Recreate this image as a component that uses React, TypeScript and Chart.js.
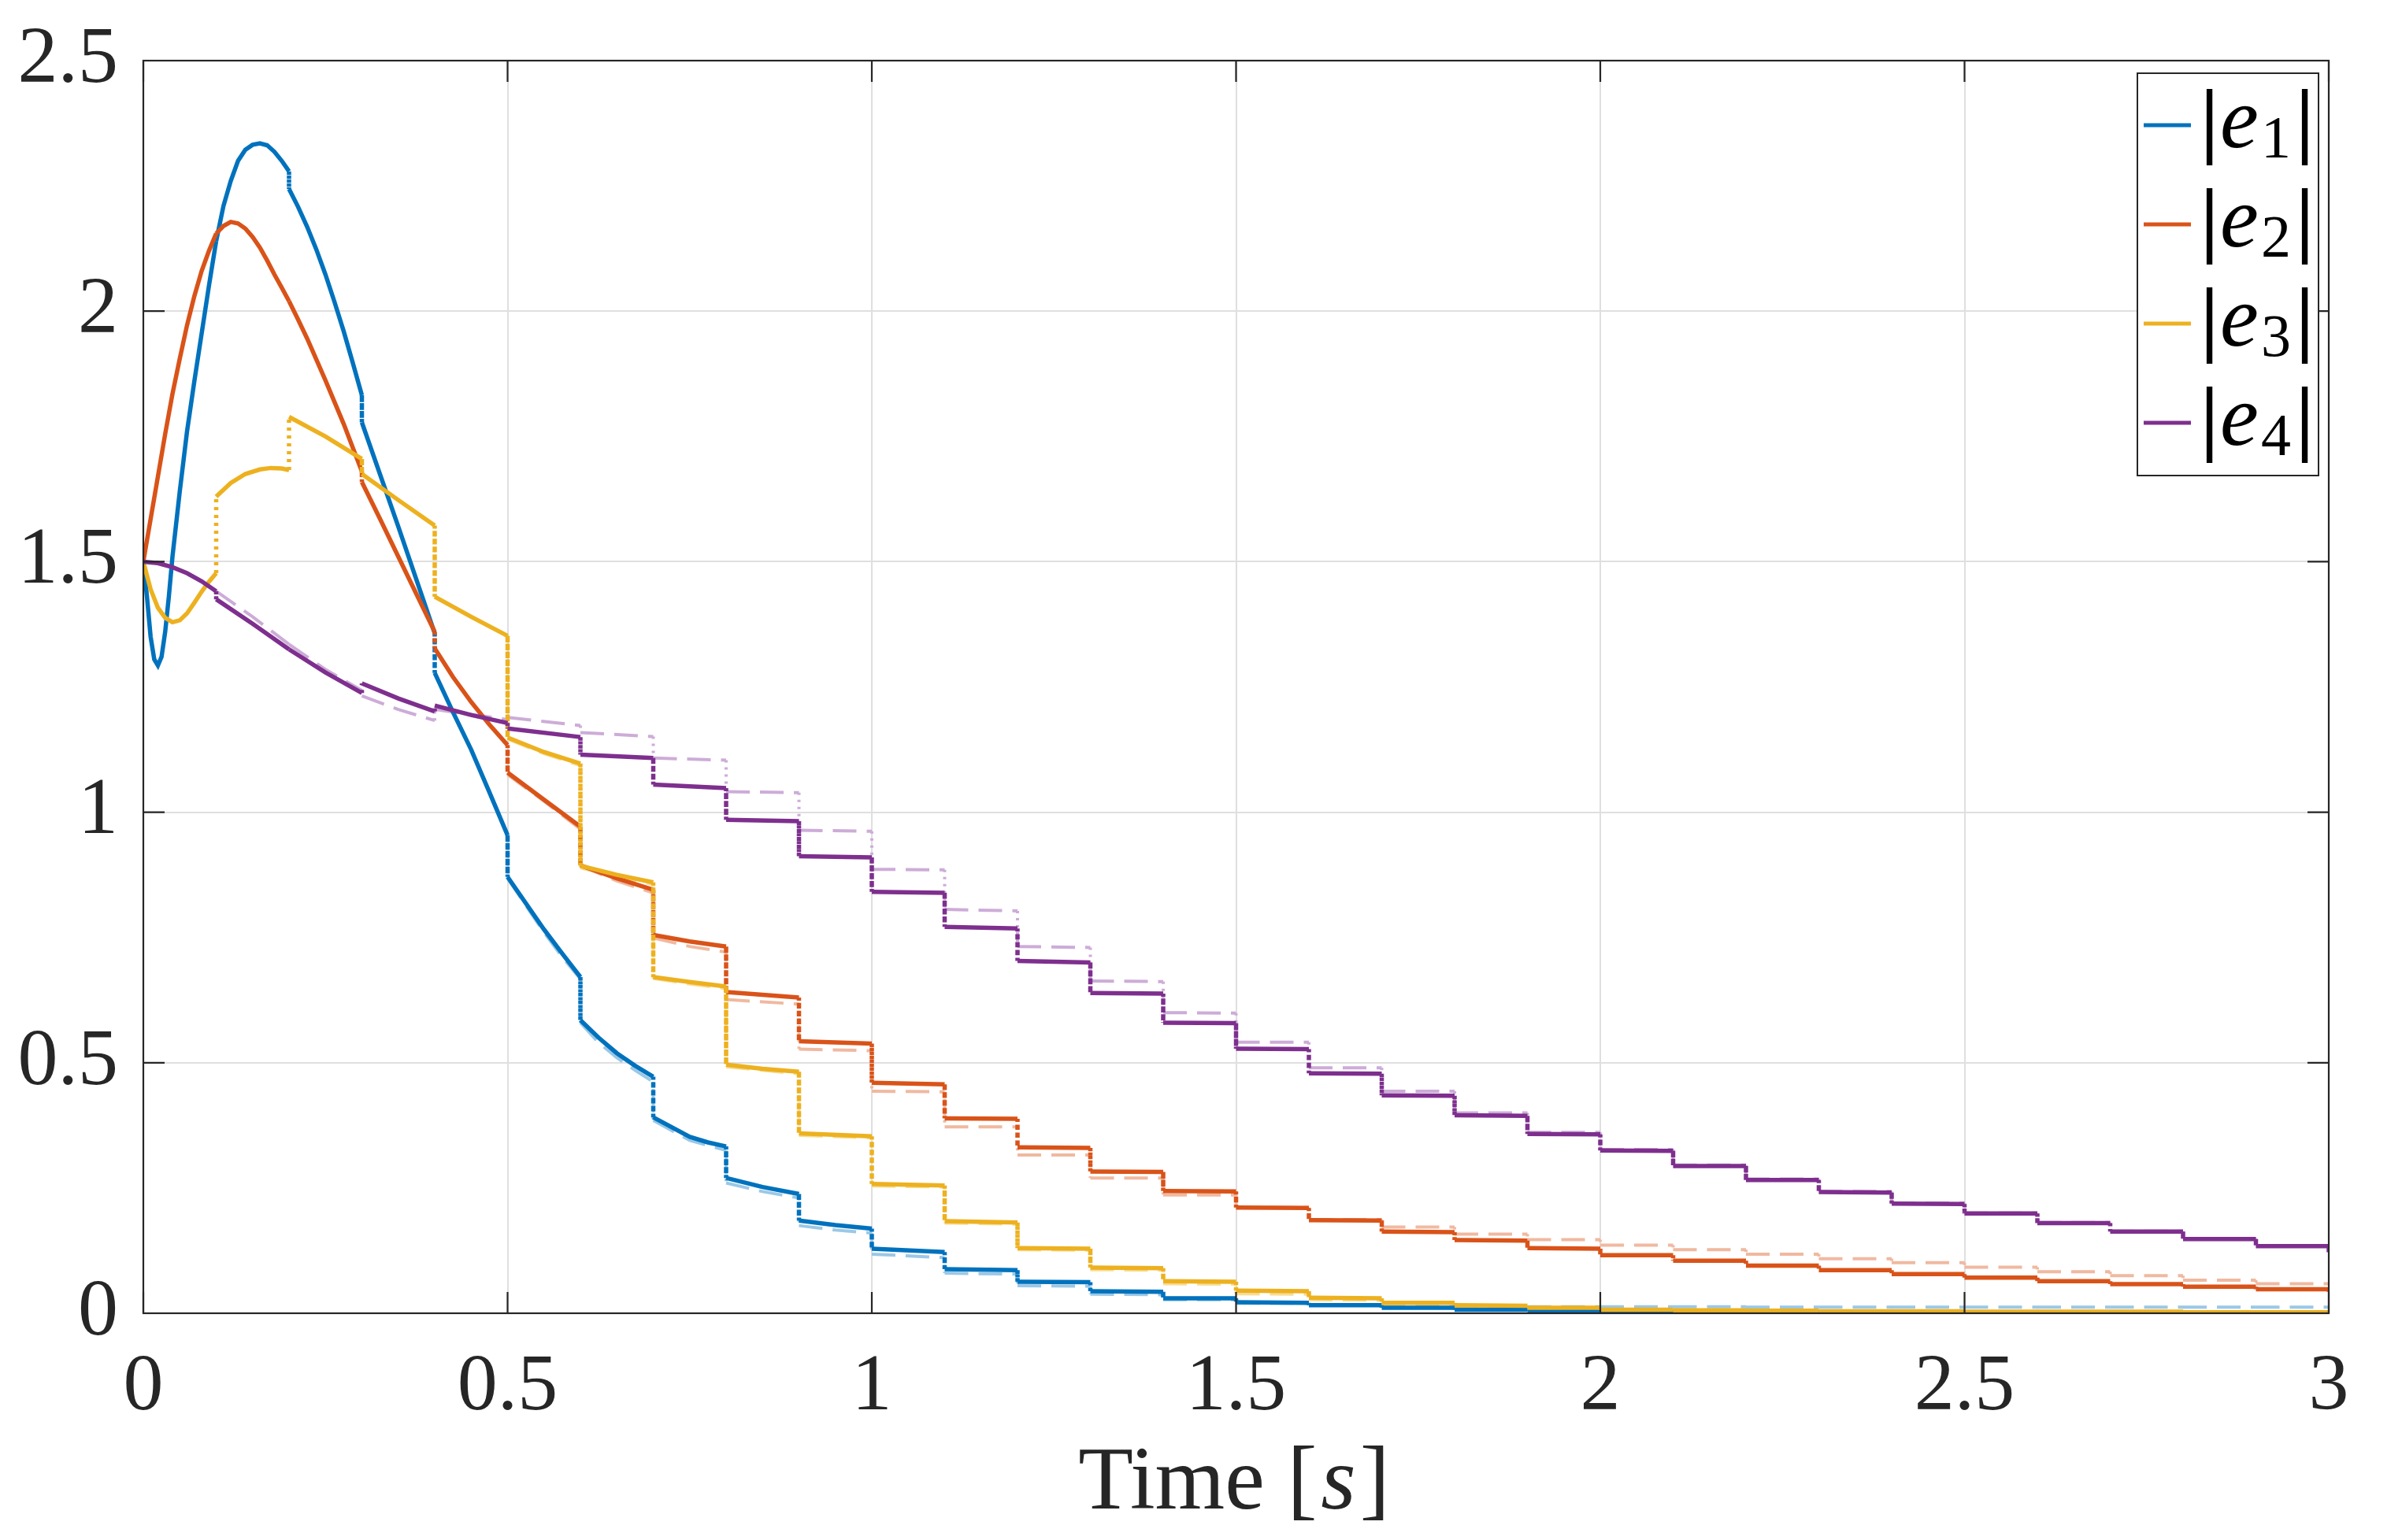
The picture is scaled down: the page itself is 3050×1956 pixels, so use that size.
import { useEffect, useRef } from 'react'

import { Chart, type ChartConfiguration, registerables } from 'chart.js'

Chart.register(...registerables)

// 制御周期ごとの時刻 [s]
const stepTimes = [
  0, 0.1, 0.2, 0.3, 0.4, 0.5, 0.6, 0.7, 0.8, 0.9, 1, 1.1, 1.2, 1.3, 1.4, 1.5, 1.6, 1.7, 1.8, 1.9, 2, 2.1,
  2.2, 2.3, 2.4, 2.5, 2.6, 2.7, 2.8, 2.9, 3,
]

const xTickValues = [0, 0.5, 1, 1.5, 2, 2.5, 3]
const yTickValues = [0, 0.5, 1, 1.5, 2, 2.5]

// |e1| : 各区間の始点・終点と区間内の点
const e1Start = [
  1.5, 2.14, 2.244, 1.778, 1.278, 0.871, 0.585, 0.391, 0.27, 0.185, 0.129, 0.088, 0.063, 0.044, 0.03,
  0.022, 0.016, 0.011, 0.007, 0.005, 0.003, 0.0025, 0.002, 0.0015, 0.0012, 0.001, 0.0008, 0.0007, 0.0006,
  0.0005, 0.0004,
]
const e1End = [
  2.14, 2.279, 1.832, 1.357, 0.954, 0.671, 0.472, 0.333, 0.238, 0.169, 0.122, 0.086, 0.062, 0.043, 0.03,
  0.021, 0.016, 0.011, 0.007, 0.005, 0.003, 0.0025, 0.002, 0.0015, 0.0012, 0.001, 0.0008, 0.0007, 0.0006,
  0.0005,
]
const e1Inner = [
  [0.005, 1.43], [0.01, 1.35], [0.015, 1.305], [0.02, 1.293], [0.025, 1.31], [0.03, 1.36], [0.035, 1.43],
  [0.04, 1.51], [0.05, 1.64], [0.06, 1.76], [0.07, 1.86], [0.08, 1.955], [0.09, 2.05],
  [0.11, 2.21], [0.12, 2.26], [0.13, 2.3], [0.14, 2.322], [0.15, 2.332], [0.16, 2.335], [0.17, 2.331],
  [0.18, 2.318], [0.19, 2.3],
  [0.2125, 2.208], [0.225, 2.168], [0.2375, 2.123], [0.25, 2.073], [0.2625, 2.018], [0.275, 1.96],
  [0.2875, 1.897],
  [0.35, 1.57],
  [0.425, 1.2], [0.45, 1.125], [0.475, 1.04],
  [0.55, 0.766], [0.575, 0.718],
  [0.625, 0.55], [0.65, 0.519], [0.675, 0.494],
  [0.75, 0.352], [0.775, 0.341],
  [0.85, 0.252], [0.95, 0.176],
]

// |e2|
const e2Start = [
  1.5, 2.155, 2.02, 1.659, 1.327, 1.079, 0.894, 0.755, 0.641, 0.543, 0.46, 0.389, 0.331, 0.283, 0.244,
  0.211, 0.186, 0.163, 0.146, 0.13, 0.116, 0.105, 0.095, 0.086, 0.078, 0.071, 0.064, 0.058, 0.053, 0.048,
  0.043,
]
const e2End = [
  2.155, 2.02, 1.68, 1.36, 1.134, 0.971, 0.845, 0.732, 0.63, 0.538, 0.457, 0.388, 0.33, 0.282, 0.243,
  0.21, 0.185, 0.162, 0.145, 0.129, 0.116, 0.105, 0.095, 0.086, 0.078, 0.071, 0.064, 0.058, 0.053, 0.048,
]
const e2Inner = [
  [0.01, 1.585], [0.02, 1.67], [0.03, 1.755], [0.04, 1.835], [0.05, 1.905], [0.06, 1.972], [0.07, 2.03],
  [0.08, 2.08], [0.09, 2.12],
  [0.11, 2.17], [0.12, 2.178], [0.13, 2.175], [0.14, 2.165], [0.15, 2.148], [0.16, 2.127], [0.17, 2.101],
  [0.18, 2.073], [0.19, 2.047],
  [0.2125, 1.983], [0.225, 1.945], [0.25, 1.862], [0.275, 1.775],
  [0.325, 1.585], [0.35, 1.51], [0.375, 1.435],
  [0.425, 1.27], [0.45, 1.22], [0.475, 1.175],
  [0.55, 1.025], [0.65, 0.868], [0.75, 0.742],
]

// |e3|
const e3Start = [
  1.5, 1.63, 1.789, 1.675, 1.43, 1.149, 0.893, 0.671, 0.496, 0.359, 0.258, 0.184, 0.13, 0.091, 0.064,
  0.045, 0.031, 0.021, 0.016, 0.011, 0.007, 0.006, 0.005, 0.004, 0.004, 0.003, 0.003, 0.003, 0.002, 0.002,
  0.002,
]
const e3End = [
  1.477, 1.683, 1.705, 1.572, 1.352, 1.097, 0.86, 0.652, 0.482, 0.353, 0.255, 0.181, 0.129, 0.09, 0.063,
  0.044, 0.03, 0.021, 0.015, 0.011, 0.007, 0.006, 0.005, 0.004, 0.004, 0.003, 0.003, 0.003, 0.002, 0.002,
]
const e3Inner = [
  [0.01, 1.445], [0.02, 1.408], [0.03, 1.388], [0.04, 1.379], [0.05, 1.383], [0.06, 1.397], [0.07, 1.418],
  [0.08, 1.44], [0.09, 1.46],
  [0.12, 1.657], [0.14, 1.675], [0.16, 1.684], [0.175, 1.687], [0.19, 1.686],
  [0.25, 1.75], [0.35, 1.623], [0.45, 1.39], [0.55, 1.12], [0.65, 0.875], [0.75, 0.661], [0.85, 0.488],
]

// |e4|
const e4Start = [
  1.5, 1.425, 1.325, 1.257, 1.213, 1.167, 1.115, 1.055, 0.985, 0.912, 0.841, 0.771, 0.703, 0.639, 0.58,
  0.528, 0.479, 0.435, 0.395, 0.358, 0.325, 0.294, 0.266, 0.242, 0.219, 0.199, 0.18, 0.163, 0.148, 0.134,
  0.12,
]
const e4End = [
  1.441, 1.325, 1.238, 1.201, 1.178, 1.15, 1.108, 1.048, 0.982, 0.91, 0.839, 0.768, 0.7, 0.638, 0.579,
  0.527, 0.478, 0.434, 0.394, 0.357, 0.324, 0.294, 0.266, 0.241, 0.218, 0.199, 0.18, 0.163, 0.148, 0.134,
]
const e4Inner = [
  [0.02, 1.497], [0.04, 1.489], [0.06, 1.477], [0.08, 1.461], [0.15, 1.376], [0.25, 1.279], [0.35, 1.227],
  [0.45, 1.194],
]

// 破線（参照値）: 開始区間の番号と各区間の値
const e1RefFrom = 5
const e1RefStart = [
  0.868, 0.58, 0.385, 0.26, 0.175, 0.118, 0.08, 0.055, 0.038, 0.027, 0.02, 0.016, 0.013, 0.013, 0.013,
  0.013, 0.013, 0.012, 0.012, 0.012, 0.012, 0.012, 0.012, 0.012, 0.012,
]
const e1RefEnd = [
  0.667, 0.462, 0.325, 0.23, 0.16, 0.111, 0.078, 0.054, 0.037, 0.027, 0.02, 0.016, 0.013, 0.013, 0.013,
  0.013, 0.013, 0.012, 0.012, 0.012, 0.012, 0.012, 0.012, 0.012, 0.012,
]
const e1RefInner = [
  [0.55, 0.76], [0.575, 0.711], [0.625, 0.54], [0.65, 0.51], [0.675, 0.485], [0.75, 0.345], [0.85, 0.243],
  [0.95, 0.166],
]

const e2RefFrom = 5
const e2RefStart = [
  1.075, 0.893, 0.749, 0.626, 0.527, 0.443, 0.372, 0.316, 0.27, 0.236, 0.211, 0.187, 0.172, 0.158, 0.147,
  0.136, 0.127, 0.118, 0.109, 0.101, 0.092, 0.083, 0.075, 0.066, 0.059,
]
const e2RefEnd = [
  0.966, 0.839, 0.721, 0.617, 0.524, 0.442, 0.372, 0.316, 0.27, 0.236, 0.211, 0.187, 0.172, 0.158, 0.147,
  0.136, 0.127, 0.118, 0.109, 0.101, 0.092, 0.083, 0.075, 0.066, 0.059,
]
const e2RefInner = [[0.55, 1.022], [0.65, 0.863], [0.75, 0.732]]

const e3RefFrom = 5
const e3RefStart = [
  1.146, 0.889, 0.668, 0.492, 0.355, 0.254, 0.18, 0.127, 0.087, 0.059, 0.039, 0.027, 0.018, 0.013, 0.009,
  0.006, 0.004, 0.003, 0.003, 0.002, 0.002, 0.002, 0.001, 0.001, 0.001,
]
const e3RefEnd = [
  1.093, 0.856, 0.648, 0.478, 0.35, 0.252, 0.178, 0.126, 0.086, 0.058, 0.038, 0.026, 0.018, 0.013, 0.009,
  0.006, 0.004, 0.003, 0.003, 0.002, 0.002, 0.002, 0.001, 0.001, 0.001,
]
const e3RefInner = [[0.55, 1.117], [0.65, 0.871], [0.75, 0.657]]

const e4RefFrom = 1
const e4RefStart = [
  1.441, 1.335, 1.232, 1.205, 1.189, 1.159, 1.108, 1.041, 0.964, 0.886, 0.806, 0.732, 0.663, 0.6, 0.541,
  0.49, 0.443, 0.4, 0.361, 0.327, 0.296, 0.268, 0.243, 0.22, 0.2, 0.181, 0.164, 0.149, 0.135,
]
const e4RefEnd = [
  1.335, 1.243, 1.183, 1.185, 1.173, 1.151, 1.104, 1.039, 0.962, 0.885, 0.803, 0.73, 0.662, 0.599, 0.541,
  0.49, 0.443, 0.4, 0.361, 0.327, 0.296, 0.268, 0.243, 0.22, 0.2, 0.181, 0.164, 0.149, 0.135,
]
const e4RefInner = [[0.15, 1.39], [0.25, 1.285], [0.35, 1.205]]

const legendSubscripts = ['1', '2', '3', '4']
const lineColors = ['#0072BD', '#D95319', '#EDB120', '#7E2F8E']
const lightColors = ['rgb(155,200,230)', 'rgb(240,185,160)', 'rgb(246,221,150)', 'rgb(205,172,216)']

const axisColor = '#262626'
const gridColor = '#dfdfdf'
const serif = '"Liberation Serif", "DejaVu Serif", serif'

type Pt = { x: number; y: number }

// 区間ごとの点列をつなげる（区間の境目は同じ x に2点 → 縦の段差）
function stepPath(from: number, starts: number[], ends: number[], inner: number[][]): Pt[] {
  const pts: Pt[] = []
  ends.forEach((endValue, i) => {
    const t0 = stepTimes[from + i]
    const t1 = stepTimes[from + i + 1]
    pts.push({ x: t0, y: starts[i] })
    inner.forEach(([t, v]) => {
      if (t > t0 && t < t1) pts.push({ x: t, y: v })
    })
    pts.push({ x: t1, y: endValue })
  })
  if (starts.length > ends.length) {
    pts.push({ x: stepTimes[from + ends.length], y: starts[ends.length] })
  }
  return pts
}

const isJump = (ctx: any) => ctx.p0.parsed.x === ctx.p1.parsed.x

const solidPaths = [
  stepPath(0, e1Start, e1End, e1Inner),
  stepPath(0, e2Start, e2End, e2Inner),
  stepPath(0, e3Start, e3End, e3Inner),
  stepPath(0, e4Start, e4End, e4Inner),
]
const refPaths = [
  stepPath(e1RefFrom, e1RefStart, e1RefEnd, e1RefInner),
  stepPath(e2RefFrom, e2RefStart, e2RefEnd, e2RefInner),
  stepPath(e3RefFrom, e3RefStart, e3RefEnd, e3RefInner),
  stepPath(e4RefFrom, e4RefStart, e4RefEnd, e4RefInner),
]

const decorPlugin = {
  id: 'matlabDecor',
  afterDraw(chart: Chart) {
    const { ctx, chartArea: a } = chart
    const xs = chart.scales.x
    const ys = chart.scales.y
    const tickLen = 27
    ctx.save()

    // 枠と内向きの目盛り
    ctx.strokeStyle = axisColor
    ctx.lineWidth = 2.2
    ctx.strokeRect(a.left, a.top, a.right - a.left, a.bottom - a.top)
    ctx.beginPath()
    xTickValues.forEach((v) => {
      const px = xs.getPixelForValue(v)
      ctx.moveTo(px, a.bottom)
      ctx.lineTo(px, a.bottom - tickLen)
      ctx.moveTo(px, a.top)
      ctx.lineTo(px, a.top + tickLen)
    })
    yTickValues.forEach((v) => {
      const py = ys.getPixelForValue(v)
      ctx.moveTo(a.left, py)
      ctx.lineTo(a.left + tickLen, py)
      ctx.moveTo(a.right, py)
      ctx.lineTo(a.right - tickLen, py)
    })
    ctx.stroke()

    // x 軸ラベル "Time [s]"
    const parts: [string, string][] = [
      ['Time [', `114px ${serif}`],
      ['s', `italic 114px ${serif}`],
      [']', `114px ${serif}`],
    ]
    let total = 0
    parts.forEach(([txt, font]) => {
      ctx.font = font
      total += ctx.measureText(txt).width + 5
    })
    let tx = (a.left + a.right) / 2 - total / 2
    const ty = a.bottom + 248
    ctx.fillStyle = axisColor
    ctx.textBaseline = 'alphabetic'
    ctx.textAlign = 'left'
    parts.forEach(([txt, font]) => {
      ctx.font = font
      ctx.fillText(txt, tx, ty)
      tx += ctx.measureText(txt).width + 5
    })

    // 凡例
    const boxW = 230
    const boxH = 511
    const bx = a.right - 13 - boxW
    const by = a.top + 16
    ctx.fillStyle = '#ffffff'
    ctx.fillRect(bx, by, boxW, boxH)
    ctx.strokeStyle = axisColor
    ctx.lineWidth = 2
    ctx.strokeRect(bx, by, boxW, boxH)
    legendSubscripts.forEach((sub, i) => {
      const ly = by + 66 + i * 126
      ctx.strokeStyle = lineColors[i]
      ctx.lineWidth = 5
      ctx.beginPath()
      ctx.moveTo(bx + 8, ly)
      ctx.lineTo(bx + 68, ly)
      ctx.stroke()

      const base = ly + 28
      let x = bx + 80
      ctx.fillStyle = '#000000'
      ctx.font = `bold 105px ${serif}`
      ctx.fillText('|', x, base)
      x += ctx.measureText('|').width + 2
      ctx.font = `italic 110px ${serif}`
      ctx.fillText('e', x, base)
      x += ctx.measureText('e').width + 3
      ctx.font = `76px ${serif}`
      ctx.fillText(sub, x, base + 13)
      x += ctx.measureText(sub).width + 6
      ctx.font = `bold 105px ${serif}`
      ctx.fillText('|', x, base)
    })

    ctx.restore()
  },
}

export default function App() {
  const chartRef = useRef<HTMLCanvasElement>(null)
  const chartInstance = useRef<Chart | null>(null)

  useEffect(() => {
    if (!chartRef.current) return
    if (chartInstance.current) {
      chartInstance.current.destroy()
    }

    const refDatasets = refPaths.map((data, i) => ({
      data,
      borderColor: lightColors[i],
      borderWidth: 4,
      borderDash: [30, 13],
      pointRadius: 0,
      tension: 0,
      fill: false,
      order: 8 - i,
      segment: {
        borderDash: (ctx: any) => (isJump(ctx) ? [3, 6] : [30, 13]),
      },
    }))
    const solidDatasets = solidPaths.map((data, i) => ({
      data,
      borderColor: lineColors[i],
      borderWidth: 5.5,
      pointRadius: 0,
      tension: 0,
      fill: false,
      borderCapStyle: 'butt' as const,
      order: 4 - i,
      segment: {
        borderDash: (ctx: any) => (isJump(ctx) ? [4, 6] : undefined),
      },
    }))

    const config: ChartConfiguration = {
      type: 'line',
      data: { datasets: [...solidDatasets, ...refDatasets] as any },
      options: {
        responsive: true,
        maintainAspectRatio: false,
        animation: false,
        devicePixelRatio: 1,
        layout: { padding: { left: 0, right: 93, top: 77, bottom: 0 } },
        plugins: {
          legend: { display: false },
          tooltip: { enabled: false },
        },
        scales: {
          x: {
            type: 'linear',
            min: 0,
            max: 3,
            afterBuildTicks: (scale) => {
              scale.ticks = xTickValues.map((value) => ({ value }))
            },
            afterFit: (scale: any) => {
              scale.height = 288
              scale.paddingLeft = 0
              scale.paddingRight = 0
            },
            ticks: {
              autoSkip: false,
              maxRotation: 0,
              minRotation: 0,
              padding: 34,
              color: axisColor,
              font: { family: serif, size: 102 },
              callback: (value) => String(value),
            },
            grid: { color: gridColor, lineWidth: 2, drawTicks: false },
            border: { display: false },
          },
          y: {
            type: 'linear',
            min: 0,
            max: 2.5,
            afterBuildTicks: (scale) => {
              scale.ticks = yTickValues.map((value) => ({ value }))
            },
            afterFit: (scale: any) => {
              scale.width = 182
              scale.paddingTop = 0
              scale.paddingBottom = 0
            },
            ticks: {
              padding: 32,
              color: axisColor,
              font: { family: serif, size: 102 },
              callback: (value) => String(value),
            },
            grid: { color: gridColor, lineWidth: 2, drawTicks: false },
            border: { display: false },
          },
        },
      },
      plugins: [decorPlugin],
    }

    chartInstance.current = new Chart(chartRef.current, config)

    return () => {
      if (chartInstance.current) {
        chartInstance.current.destroy()
        chartInstance.current = null
      }
    }
  }, [])

  return (
    <div style={{ position: 'absolute', left: 0, top: 0, width: 3050, height: 1956, background: '#ffffff' }}>
      <canvas ref={chartRef} />
    </div>
  )
}
